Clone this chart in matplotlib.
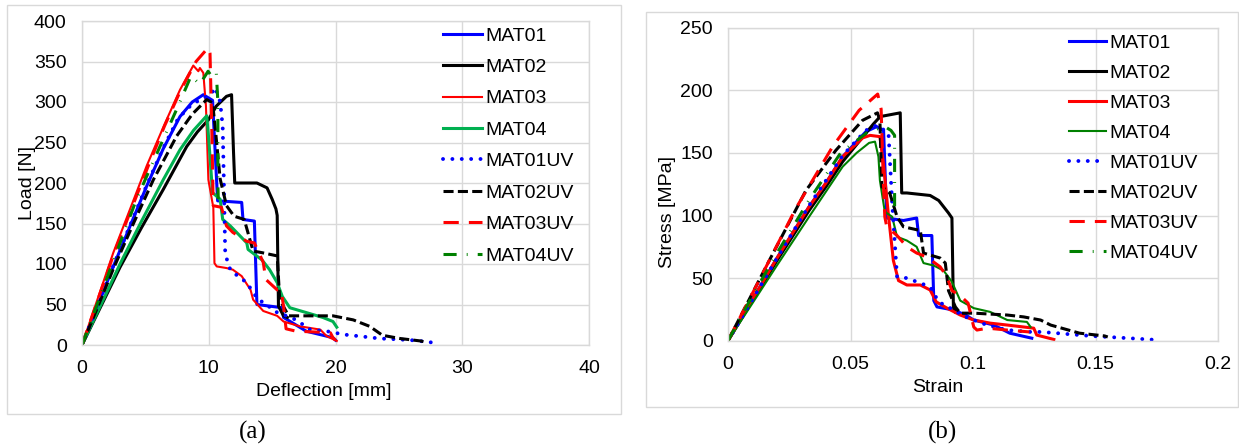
import matplotlib
matplotlib.use("Agg")
import matplotlib.pyplot as plt
from matplotlib.patches import Rectangle

plt.rcParams['font.family'] = ['Liberation Sans', 'DejaVu Sans']

# ---------------- data: (a) load vs deflection ----------------
labels = ["MAT01", "MAT02", "MAT03", "MAT04", "MAT01UV", "MAT02UV", "MAT03UV", "MAT04UV"]

a_mat01_x = [0, 1.25, 2.5, 3.8, 5.1, 6.4, 7.73, 8.7, 9.57, 10.3, 10.5, 10.7, 12.6, 12.7, 13.6, 13.8, 15.8,
             15.9, 17.7, 19.8, 20.0]
a_mat01_y = [0, 49, 98, 147, 196, 242, 282, 300, 309, 302, 240, 178, 176, 155, 153, 50, 46,
             34, 17, 9, 6]
a_mat02_x = [0, 3, 4.7, 6.41, 8.26, 9.1, 9.97, 10.6, 11.4, 11.8, 11.95, 12.05, 13.8, 14.6, 15.0, 15.3, 15.4,
             15.5, 15.9, 16.2]
a_mat02_y = [0, 96, 145, 192, 245, 263, 278, 295, 307, 309, 240, 200, 200, 194, 180, 168, 160,
             48, 36, 34]
a_mat03_x = [0, 2.47, 5.1, 6.5, 7.73, 8.78, 9.18, 9.3, 9.57, 9.78, 9.97, 10.3, 10.36, 10.45, 10.63, 11.4,
             11.9, 12.6, 13.3, 13.5, 14.3, 15.4, 15.9, 17.2, 18.8, 19.3, 20.1]
a_mat03_y = [0, 114, 221, 272, 315, 345, 338, 342, 336, 295, 204, 175, 170, 101, 97, 95,
             93, 85, 68, 56, 42, 36, 29, 23, 19, 11, 5]
a_mat04_x = [0, 3, 4.7, 6.41, 7.73, 8.8, 9.84, 10.0, 10.3, 10.9, 11.1, 11.7, 12.2, 13.0, 13.1, 14.2, 14.8,
             15.4, 15.8, 16.4, 17.7, 19.0, 19.8, 20.1]
a_mat04_y = [0, 100, 153, 204, 241, 265, 283, 254, 188, 180, 155, 147, 139, 126, 118, 105, 93,
             77, 60, 46, 40, 34, 29, 22]
a_mat01uv_x = [0, 2.5, 5.1, 6.4, 7.5, 8.3, 9.0, 10.2, 10.5, 10.9, 11.1, 11.2, 11.3, 11.7, 12.3, 13.0, 13.5,
               13.9, 14.6, 15.1, 15.8, 16.9, 18.0, 19.3, 20.0, 20.6, 22.1, 23.5, 24.9, 26.3, 28.2]
a_mat01uv_y = [0, 99, 197, 243, 277, 292, 300, 310, 318, 300, 270, 196, 112, 93, 85, 77, 65,
               56, 50, 42, 38, 31, 19, 17, 15, 13, 10.5, 8, 7, 5.6, 2]
a_mat02uv_x = [0, 2.5, 4.0, 5.63, 7.47, 8.7, 9.84, 10.3, 10.5, 10.7, 10.9, 11.4, 12.0, 12.8, 13.5, 14.2,
               15.4, 15.6, 16.3, 19.8, 21.4, 22.7, 23.7, 25.1, 26.7, 27.0]
a_mat02uv_y = [0, 95, 148, 204, 258, 285, 303, 299, 270, 237, 205, 172, 159, 155, 116, 114,
               110, 56, 36, 36, 31, 23, 12, 8, 5, 4]
a_mat03uv_x = [0, 2.5, 5.2, 6.5, 7.8, 9.0, 9.95, 10.1, 10.25, 10.35, 11.0, 11.4, 11.9, 13.0, 13.6, 14.3,
               14.5, 15.4, 15.7, 15.9, 16.1, 16.9, 18.5, 19.6, 19.8, 20.0]
a_mat03uv_y = [0, 112, 220, 270, 315, 350, 367, 360, 260, 172, 170, 147, 139, 128, 126, 102,
               81, 68, 68, 48, 20, 17, 16, 15, 9, 6]
a_mat04uv_x = [0, 2.5, 4.3, 6.15, 7.47, 8.6, 9.3, 9.95, 10.3, 10.6, 10.72, 10.72, 10.75]
a_mat04uv_y = [0, 105, 180, 245, 291, 332, 322, 338, 330, 335, 300, 200, 180]

# ---------------- data: (b) stress vs strain ----------------
b_mat01_x = [0, 0.01, 0.02, 0.0331, 0.04, 0.0468, 0.0563, 0.0607, 0.0635, 0.0648, 0.0716, 0.077, 0.0778,
             0.0832, 0.084, 0.0853, 0.092, 0.097, 0.1003, 0.1085, 0.115, 0.124]
b_mat01_y = [0, 33, 66, 107, 126, 147, 167, 171, 168, 98, 96, 98, 84,
             84, 32, 27, 24.5, 20.5, 16.5, 12.5, 6, 2]
b_mat02_x = [0, 0.01, 0.02, 0.0331, 0.04, 0.0468, 0.0593, 0.0621, 0.0703, 0.0709, 0.073, 0.0825, 0.086,
             0.09, 0.0914, 0.092, 0.0928]
b_mat02_y = [0, 32, 64, 104, 123, 143, 173, 179, 182, 118, 118, 116, 112, 102, 98, 27, 23]
b_mat03_x = [0, 0.01, 0.02, 0.0331, 0.04, 0.0468, 0.055, 0.058, 0.062, 0.0635, 0.0655, 0.0675, 0.0696,
             0.073, 0.0785, 0.0825, 0.085, 0.0894, 0.0948, 0.1003, 0.1071, 0.114, 0.1248, 0.126, 0.133]
b_mat03_y = [0, 33, 66, 107, 126, 147, 162, 164, 163, 140, 100, 64, 48,
             44.5, 44.5, 40.5, 31, 26, 20.5, 16.5, 14, 12.5, 10, 4.5, 1]
b_mat04_x = [0, 0.01, 0.0196, 0.0331, 0.0468, 0.0525, 0.0576, 0.06, 0.0614, 0.062, 0.064, 0.067, 0.069,
             0.073, 0.077, 0.0798, 0.084, 0.088, 0.0914, 0.0948, 0.1003, 0.107, 0.114, 0.122, 0.1235]
b_mat04_y = [0, 30, 59, 99, 139, 150, 158, 159, 147, 128, 103, 99, 83,
             80, 75, 62, 60, 56, 47, 32, 26, 23, 16.5, 15, 11]
b_mat01uv_x = [0, 0.01, 0.02, 0.0331, 0.04, 0.0468, 0.0563, 0.0607, 0.0655, 0.067, 0.069, 0.073, 0.0785,
               0.0825, 0.086, 0.0907, 0.097, 0.1057, 0.114, 0.1235, 0.128, 0.148, 0.1635, 0.176]
b_mat01uv_y = [0, 33, 66, 108, 128, 148, 168, 172, 166, 110, 51, 50, 46,
               43, 31, 26, 19, 12.5, 8.5, 7, 7, 3.8, 2, 0.5]
b_mat02uv_x = [0, 0.0155, 0.0318, 0.044, 0.0549, 0.061, 0.062, 0.0628, 0.066, 0.069, 0.0716,
               0.0785, 0.0798, 0.0866, 0.0887, 0.09, 0.0928, 0.0948, 0.1003, 0.114, 0.1207, 0.1276,
               0.1317, 0.1435, 0.1537, 0.155]
b_mat02uv_y = [0, 59, 120, 152, 176, 182, 176, 123, 118, 99, 91,
               88, 70, 66, 62, 40, 27, 22, 22, 20.5, 19, 16.5,
               12.5, 6, 3.8, 3]
b_mat03uv_x = [0, 0.0128, 0.0277, 0.0427, 0.0535, 0.0611, 0.0625, 0.0634, 0.064, 0.0648, 0.069,
               0.073, 0.077, 0.081, 0.0866, 0.0894, 0.0914, 0.0948, 0.098, 0.1003, 0.1016, 0.106,
               0.114, 0.123]
b_mat03uv_y = [0, 48.5, 105.7, 155, 184, 197, 185, 128, 99, 91, 84,
               75, 70, 67, 59, 51, 40, 36, 30, 11, 8.5, 10,
               8.5, 7]
b_mat04uv_x = [0, 0.01, 0.02, 0.033, 0.046, 0.0566, 0.062, 0.064, 0.0665, 0.068, 0.068]
b_mat04uv_y = [0, 36, 70, 112, 150, 166, 170, 171, 168, 164, 107]

a_x_ticks = [0, 10, 20, 30, 40]
a_y_ticks = [0, 50, 100, 150, 200, 250, 300, 350, 400]
b_x_ticks = [0, 0.05, 0.1, 0.15, 0.2]
b_x_ticklabels = ["0", "0.05", "0.1", "0.15", "0.2"]
b_y_ticks = [0, 50, 100, 150, 200, 250]

# ---------------- styles ----------------
DOT = (0, (0.01, 2.4))
DASH = (0, (3.3, 1.4))
LDASH = (0, (5.0, 3.3))
DDOT = (0, (4.3, 3.3, 0.3, 3.3))
W = 2.2

styles_a = [
    dict(color='#0000FF', lw=W, ls='-'),
    dict(color='#000000', lw=W, ls='-'),
    dict(color='#FF0000', lw=1.5, ls='-'),
    dict(color='#00B050', lw=W, ls='-'),
    dict(color='#0000FF', lw=2.8, ls=DOT, dash_capstyle='round'),
    dict(color='#000000', lw=W, ls=DASH),
    dict(color='#FF0000', lw=W, ls=LDASH),
    dict(color='#008000', lw=W, ls=DDOT),
]
styles_b = [
    dict(color='#0000FF', lw=W, ls='-'),
    dict(color='#000000', lw=W, ls='-'),
    dict(color='#FF0000', lw=W, ls='-'),
    dict(color='#008000', lw=1.5, ls='-'),
    dict(color='#0000FF', lw=2.8, ls=DOT, dash_capstyle='round'),
    dict(color='#000000', lw=W, ls=DASH),
    dict(color='#FF0000', lw=W, ls=LDASH),
    dict(color='#008000', lw=W, ls=DDOT),
]

series_a = [(a_mat01_x, a_mat01_y), (a_mat02_x, a_mat02_y), (a_mat03_x, a_mat03_y), (a_mat04_x, a_mat04_y),
            (a_mat01uv_x, a_mat01uv_y), (a_mat02uv_x, a_mat02uv_y), (a_mat03uv_x, a_mat03uv_y),
            (a_mat04uv_x, a_mat04uv_y)]
series_b = [(b_mat01_x, b_mat01_y), (b_mat02_x, b_mat02_y), (b_mat03_x, b_mat03_y), (b_mat04_x, b_mat04_y),
            (b_mat01uv_x, b_mat01uv_y), (b_mat02uv_x, b_mat02uv_y), (b_mat03uv_x, b_mat03uv_y),
            (b_mat04uv_x, b_mat04uv_y)]

W_PX, H_PX = 1239, 445
fig = plt.figure(figsize=(W_PX / 100, H_PX / 100), dpi=100)


def fx(px):
    return px / W_PX


def fy(py):
    return 1 - py / H_PX


GRID = '#D9D9D9'
FS = 14

# panel frames
fig.add_artist(Rectangle((fx(7), fy(414)), fx(621) - fx(7), fy(5) - fy(414), transform=fig.transFigure,
                         fill=False, ec=GRID, lw=1))
fig.add_artist(Rectangle((fx(646), fy(407)), fx(1238) - fx(646), fy(12) - fy(407), transform=fig.transFigure,
                         fill=False, ec=GRID, lw=1))


def setup(ax, xt, yt, xl=None):
    ax.set_xticks(xt)
    ax.set_yticks(yt)
    if xl is not None:
        ax.set_xticklabels(xl)
    ax.grid(True, color=GRID, lw=1)
    ax.set_axisbelow(True)
    for s in ax.spines.values():
        s.set_color(GRID)
        s.set_linewidth(1)
    ax.tick_params(length=0, labelsize=FS, pad=11, colors='black')


def draw(ax, series, styles):
    for (x, y), lab, st in zip(series, labels, styles):
        st = dict(st)
        ax.plot(x, y, label=lab, color=st.pop('color'), lw=st.pop('lw'), ls=st.pop('ls'), **st)


# (a)
axa = fig.add_axes([fx(82), fy(345), fx(589) - fx(82), fy(21) - fy(345)])
draw(axa, series_a, styles_a)
axa.set_xlim(0, 40)
axa.set_ylim(0, 400)
setup(axa, a_x_ticks, a_y_ticks)
axa.legend(loc='upper left', bbox_to_anchor=(fx(443), fy(27)), bbox_transform=fig.transFigure,
           frameon=False, fontsize=FS, borderpad=0, borderaxespad=0, handlelength=2.0,
           handletextpad=0.2, labelspacing=0.71)
fig.text(fx(324), fy(392), "Deflection [mm]", fontsize=FS, ha='center', va='center')
fig.text(fx(28), fy(183), "Load [N]", fontsize=FS, ha='center', va='center', rotation=90)

# (b)
axb = fig.add_axes([fx(728), fy(340.7), fx(1218) - fx(728), fy(27.7) - fy(340.7)])
draw(axb, series_b, styles_b)
axb.set_xlim(0, 0.2)
axb.set_ylim(0, 250)
setup(axb, b_x_ticks, b_y_ticks, b_x_ticklabels)
axb.legend(loc='upper left', bbox_to_anchor=(fx(1069), fy(34)), bbox_transform=fig.transFigure,
           frameon=False, fontsize=FS, borderpad=0, borderaxespad=0, handlelength=1.9,
           handletextpad=0.2, labelspacing=0.64)
fig.text(fx(938), fy(388), "Strain", fontsize=FS, ha='center', va='center')
fig.text(fx(667), fy(212), "Stress [MPa]", fontsize=FS, ha='center', va='center', rotation=90)

# captions
fig.text(fx(253), fy(432), "(a)", fontsize=18, ha='center', va='center',
         family=['Liberation Serif', 'DejaVu Serif'])
fig.text(fx(942), fy(432), "(b)", fontsize=18, ha='center', va='center',
         family=['Liberation Serif', 'DejaVu Serif'])

fig.savefig("out.png", dpi=100)
